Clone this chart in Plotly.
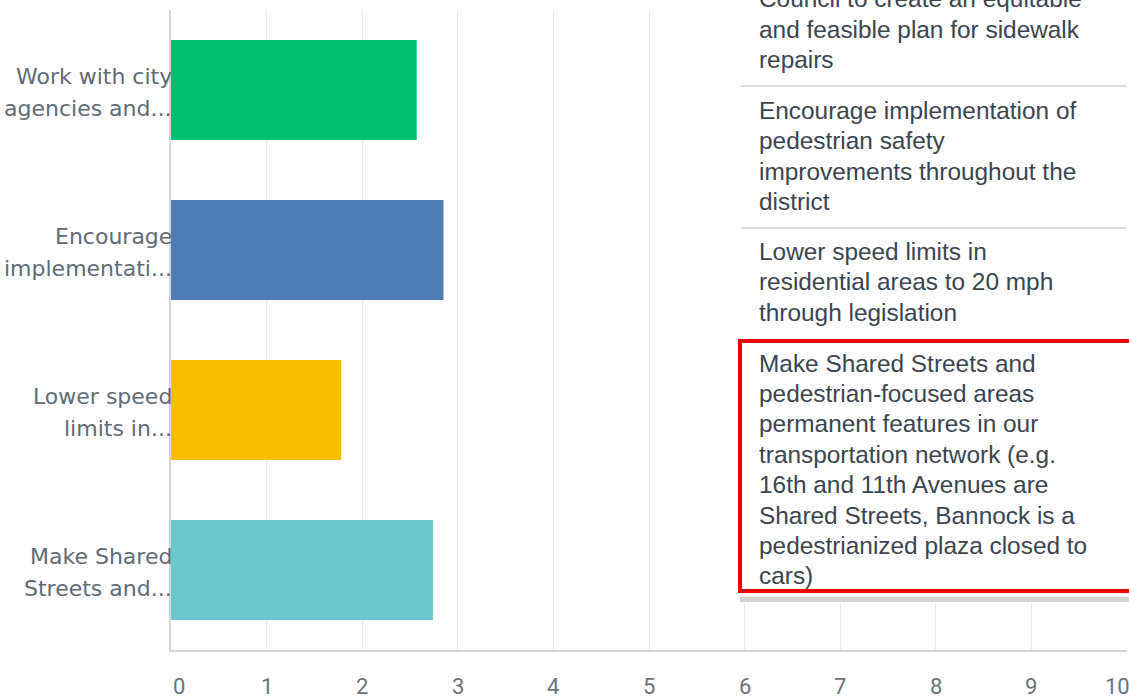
import plotly.graph_objects as go

categories = [
    "Work with city agencies and...",
    "Encourage implementati...",
    "Lower speed limits in...",
    "Make Shared Streets and...",
]
label_lines = [
    ["Work with city", "agencies and..."],
    ["Encourage", "implementati..."],
    ["Lower speed", "limits in..."],
    ["Make Shared", "Streets and..."],
]
values = [2.57, 2.85, 1.78, 2.74]
bar_colors = ["#00BF6F", "#507CB6", "#F9BE00", "#6BC8CD"]
x_ticks = [0, 1, 2, 3, 4, 5, 6, 7, 8, 9, 10]

table_rows = [
    ["Work with city agencies and City", "Council to create an equitable",
     "and feasible plan for sidewalk", "repairs"],
    ["Encourage implementation of", "pedestrian safety",
     "improvements throughout the", "district"],
    ["Lower speed limits in", "residential areas to 20 mph", "through legislation"],
    ["Make Shared Streets and", "pedestrian-focused areas",
     "permanent features in our", "transportation network (e.g.",
     "16th and 11th Avenues are", "Shared Streets, Bannock is a",
     "pedestrianized plaza closed to", "cars)"],
]

W, H = 1129, 697
L, R, T, B = 171, 1127, 10, 650


def px(x):
    return (x - L) / (R - L)


def py(y):
    return (B - y) / (B - T)


fig = go.Figure(
    go.Bar(
        x=values,
        y=categories,
        orientation="h",
        marker=dict(color=bar_colors, line=dict(width=0)),
        hoverinfo="skip",
    )
)

shapes = []
annotations = []

# y category labels (two lines each, right aligned at the axis)
for cat, lines in zip(categories, label_lines):
    for k, ln in enumerate(lines):
        annotations.append(dict(
            xref="paper", yref="y", x=px(174), y=cat,
            xanchor="right", yanchor="middle", align="right",
            yshift=14 - 32 * k, text=ln, showarrow=False,
            font=dict(family="DejaVu Sans", size=22, color="#5f6b75"),
        ))

# x tick labels (first and last nudged inward, as in the source)
for v in x_ticks:
    shift = 8 if v == x_ticks[0] else (-10 if v == x_ticks[-1] else 0)
    annotations.append(dict(
        xref="x", yref="paper", x=v, y=py(686), xshift=shift,
        xanchor="center", yanchor="middle", text=str(v), showarrow=False,
        font=dict(family="Roboto", size=22, color="#69747e"),
    ))

# white table panel
shapes.append(dict(type="rect", xref="paper", yref="paper",
                   x0=px(740), x1=px(1140), y0=py(603), y1=py(-40),
                   fillcolor="white", line=dict(width=0), layer="above"))
# bottom shadow line
shapes.append(dict(type="rect", xref="paper", yref="paper",
                   x0=px(740), x1=px(1140), y0=py(602), y1=py(597),
                   fillcolor="#d4d4d4", line=dict(width=0), layer="above"))
# separators
for ysep in [86, 228]:
    shapes.append(dict(type="line", xref="paper", yref="paper",
                       x0=px(741), x1=px(1126), y0=py(ysep), y1=py(ysep),
                       line=dict(color="#d9dcdc", width=2), layer="above"))
# red highlight
shapes.append(dict(type="rect", xref="paper", yref="paper",
                   x0=px(740), x1=px(1140), y0=py(591), y1=py(341),
                   fillcolor="rgba(0,0,0,0)", line=dict(color="#f40000", width=4),
                   layer="above"))

row_first_line = [-31.5, 110.5, 251.5, 363]
line_gap = 30.4
for lines, y0 in zip(table_rows, row_first_line):
    for k, ln in enumerate(lines):
        annotations.append(dict(
            xref="paper", yref="paper", x=px(757), y=py(y0 + k * line_gap),
            xanchor="left", yanchor="middle", align="left",
            text=ln, showarrow=False,
            font=dict(family="Liberation Sans, Arial", size=24.4, color="#3a4550"),
        ))

fig.update_layout(
    width=W, height=H,
    margin=dict(l=L, r=W - R, t=T, b=H - B, autoexpand=False),
    paper_bgcolor="white",
    plot_bgcolor="white",
    showlegend=False,
    bargap=0.375,
    shapes=shapes,
    annotations=annotations,
    xaxis=dict(
        range=[0, 10],
        tickvals=x_ticks,
        showgrid=True,
        gridcolor="#ececec",
        gridwidth=1,
        zeroline=False,
        showline=True,
        linecolor="#d6d6d6",
        linewidth=2,
        ticks="",
        showticklabels=False,
        automargin=False,
        fixedrange=True,
    ),
    yaxis=dict(
        autorange="reversed",
        showgrid=False,
        zeroline=False,
        showline=True,
        linecolor="#d6d6d6",
        linewidth=2,
        ticks="",
        showticklabels=False,
        automargin=False,
        fixedrange=True,
    ),
)

fig.write_html(
    "out.html",
    config={"displayModeBar": False},
    post_script="document.body.style.margin='0';document.body.style.overflow='hidden';",
)
